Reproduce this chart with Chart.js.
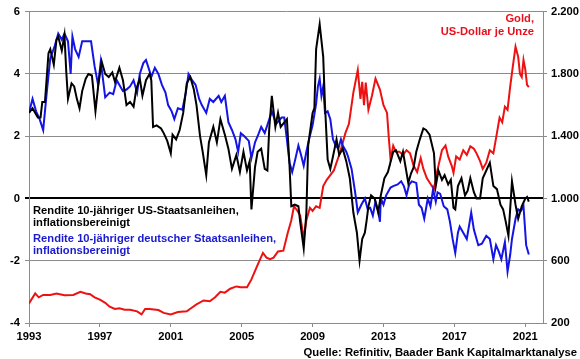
<!DOCTYPE html>
<html><head><meta charset="utf-8">
<script src="https://cdn.jsdelivr.net/npm/chart.js@4.4.0/dist/chart.umd.min.js"></script>
<style>
html,body{margin:0;padding:0;background:#fff;}
#wrap{position:relative;width:580px;height:359px;overflow:hidden;}
canvas{position:absolute;left:0;top:0;}
.t{position:absolute;font-family:"Liberation Sans",Arial,sans-serif;font-weight:bold;font-size:11.2px;white-space:nowrap;}
</style></head>
<body>
<div id="wrap">
<canvas id="c" width="580" height="359"></canvas>
<div class="t" style="left:33px;top:205px;line-height:11.5px;color:#000;">Rendite 10-jähriger US-Staatsanleihen,<br>inflationsbereinigt</div>
<div class="t" style="left:33px;top:233px;line-height:11.5px;color:#1a1ad0;">Rendite 10-jähriger deutscher Staatsanleihen,<br>inflationsbereinigt</div>
<div class="t" style="right:46px;top:12px;line-height:13px;color:#e8101c;text-align:right;">Gold,<br>US-Dollar je Unze</div>
<div class="t" style="right:3px;top:345px;line-height:14px;color:#000;font-size:11.3px;">Quelle: Refinitiv, Baader Bank Kapitalmarktanalyse</div>
</div>
<script>
// ---- Data ----
const xTickYears = [1993, 1997, 2001, 2005, 2009, 2013, 2017, 2021];
const leftTicks = [-4, -2, 0, 2, 4, 6];
const rightTicks = [200, 600, 1000, 1400, 1800, 2200];

const usDates = [1993.0,1993.2,1993.5,1993.65,1993.75,1993.9,1994.1,1994.2,1994.4,1994.55,1994.65,1994.85,1995.0,1995.1,1995.2,1995.4,1995.55,1995.7,1995.85,1996.0,1996.2,1996.35,1996.55,1996.75,1996.9,1997.1,1997.3,1997.5,1997.7,1997.85,1998.1,1998.3,1998.5,1998.7,1998.9,1999.05,1999.25,1999.4,1999.6,1999.8,1999.9,2000.0,2000.2,2000.45,2000.6,2000.8,2001.0,2001.1,2001.3,2001.5,2001.7,2001.9,2002.1,2002.3,2002.45,2002.65,2002.8,2003.0,2003.15,2003.4,2003.6,2003.8,2004.05,2004.25,2004.45,2004.7,2004.9,2005.1,2005.3,2005.45,2005.55,2005.75,2005.9,2006.1,2006.3,2006.45,2006.55,2006.7,2006.9,2007.05,2007.2,2007.55,2007.7,2007.8,2008.0,2008.2,2008.3,2008.5,2008.65,2008.75,2009.0,2009.1,2009.2,2009.4,2009.6,2009.7,2009.85,2010.0,2010.15,2010.35,2010.5,2010.7,2010.9,2011.1,2011.3,2011.5,2011.65,2011.8,2011.95,2012.05,2012.15,2012.3,2012.5,2012.7,2012.85,2013.05,2013.25,2013.55,2013.7,2013.95,2014.1,2014.4,2014.55,2014.7,2014.85,2015.05,2015.25,2015.4,2015.6,2015.85,2015.95,2016.1,2016.3,2016.45,2016.65,2016.8,2016.95,2017.05,2017.2,2017.4,2017.6,2017.75,2017.9,2018.1,2018.25,2018.45,2018.6,2018.8,2019.0,2019.2,2019.4,2019.6,2019.75,2019.9,2020.05,2020.25,2020.45,2020.6,2020.8,2021.0,2021.1,2021.2];
const usYield = [2.75,2.9,2.6,2.6,3.1,3.1,4.67,4.8,4.3,5.1,5.2,4.75,5.25,4.1,3.2,3.7,3.6,3.2,2.9,3.45,3.85,4.0,3.95,2.8,3.6,4.4,4.0,3.9,4.05,3.75,4.2,3.8,3.0,3.1,2.95,3.5,3.85,3.3,3.8,4.0,3.8,2.3,2.35,2.25,2.1,1.85,1.45,2.05,1.9,2.2,2.75,3.7,3.9,3.5,3.0,2.0,1.5,0.75,1.8,2.3,1.8,2.55,2.05,1.6,0.95,1.4,0.85,1.5,0.9,1.2,-0.35,1.0,1.5,1.6,0.95,0.9,2.2,3.3,2.3,2.75,2.3,2.55,1.05,-0.25,-0.2,-0.25,-0.75,-1.6,-0.45,1.7,2.75,2.9,4.8,5.6,4.55,3.0,1.25,0.95,1.35,1.9,1.4,1.6,1.2,0.65,-0.45,-1.1,-2.0,-1.3,-1.1,-0.7,-0.25,0.1,0.0,-0.45,0.1,0.65,0.85,1.5,1.55,1.2,1.5,0.5,0.8,1.0,1.5,1.9,2.25,2.2,2.05,1.45,0.4,0.9,0.6,0.75,0.45,0.6,-0.3,-0.35,0.4,0.65,0.1,0.25,0.65,0.2,0.0,0.0,0.65,0.9,1.15,0.4,0.3,-0.2,-0.35,-0.75,-1.2,0.55,-0.2,-0.65,-0.25,0.0,0.05,-0.1];

const deDates = [1993.0,1993.2,1993.4,1993.6,1993.8,1994.0,1994.2,1994.45,1994.65,1994.85,1995.0,1995.2,1995.35,1995.45,1995.6,1995.8,1996.0,1996.3,1996.5,1996.7,1996.9,1997.05,1997.3,1997.55,1997.75,1997.95,1998.15,1998.3,1998.5,1998.7,1998.9,1999.1,1999.25,1999.45,1999.6,1999.8,1999.9,2000.1,2000.3,2000.5,2000.7,2000.85,2001.05,2001.2,2001.4,2001.65,2001.85,2002.0,2002.2,2002.4,2002.6,2002.75,2003.0,2003.2,2003.4,2003.7,2003.85,2004.05,2004.25,2004.45,2004.65,2004.8,2004.95,2005.15,2005.4,2005.55,2005.75,2005.9,2006.1,2006.3,2006.5,2006.7,2006.95,2007.25,2007.4,2007.55,2007.7,2007.85,2008.0,2008.2,2008.35,2008.5,2008.65,2008.8,2009.0,2009.2,2009.3,2009.4,2009.5,2009.6,2009.7,2009.85,2010.0,2010.15,2010.3,2010.45,2010.6,2010.7,2010.9,2011.0,2011.2,2011.4,2011.55,2011.75,2011.95,2012.1,2012.25,2012.4,2012.55,2012.7,2012.8,2012.85,2013.0,2013.15,2013.4,2013.55,2013.8,2014.0,2014.15,2014.3,2014.45,2014.6,2014.85,2015.0,2015.15,2015.3,2015.5,2015.65,2015.8,2015.95,2016.05,2016.2,2016.4,2016.6,2016.75,2016.9,2017.05,2017.2,2017.3,2017.5,2017.7,2017.85,2017.95,2018.1,2018.35,2018.55,2018.8,2019.0,2019.2,2019.35,2019.5,2019.65,2019.85,2020.0,2020.15,2020.25,2020.45,2020.6,2020.75,2020.9,2021.05,2021.2];
const deYield = [2.75,3.2,2.8,2.55,2.2,3.4,4.5,4.9,5.3,5.1,5.3,5.05,4.0,5.2,4.8,4.55,5.05,5.05,5.05,4.25,3.65,4.4,3.25,3.4,3.35,3.8,3.6,3.45,3.5,3.6,3.8,3.4,4.0,4.35,4.45,4.1,3.9,4.2,4.0,3.65,3.4,3.0,2.8,2.55,2.9,2.85,3.4,4.0,3.8,3.65,3.2,3.0,2.75,3.2,3.1,3.3,3.1,3.3,2.45,2.2,1.9,1.5,2.1,2.0,1.85,1.3,1.8,2.0,2.3,2.1,2.45,2.8,2.4,2.6,2.6,1.9,1.15,0.85,1.2,1.7,1.4,1.05,1.5,1.9,2.35,3.05,3.6,3.85,3.3,3.6,2.75,2.8,2.55,1.9,1.7,1.6,1.9,1.7,1.5,1.35,0.95,0.2,-0.45,-0.2,0.0,-0.33,-0.3,-0.55,-0.1,-0.4,-0.75,0.0,-0.2,0.1,0.35,0.4,0.45,0.55,0.4,0.1,0.45,0.55,0.5,-0.2,-0.3,-0.65,0.0,-0.25,0.3,-0.1,0.2,0.15,-0.25,-0.35,-0.75,-1.3,-1.75,-1.1,-0.9,-1.1,-1.3,-0.8,-0.45,-1.0,-1.5,-1.45,-1.2,-1.3,-1.95,-1.5,-1.7,-1.95,-1.4,-2.35,-1.8,-1.3,-0.65,-0.35,-0.4,-0.25,-1.5,-1.8];

const goldDates = [1993.0,1993.35,1993.55,1993.8,1994.2,1994.55,1995.0,1995.5,1995.9,1996.2,1996.45,1996.7,1997.0,1997.3,1997.55,1997.85,1998.1,1998.4,1998.7,1999.1,1999.35,1999.55,1999.8,2000.3,2000.6,2001.0,2001.4,2001.9,2002.2,2002.45,2002.85,2003.2,2003.5,2003.8,2004.05,2004.35,2004.7,2004.95,2005.3,2005.55,2005.85,2006.2,2006.4,2006.6,2006.8,2007.05,2007.35,2007.6,2007.8,2007.95,2008.15,2008.3,2008.5,2008.65,2008.85,2009.0,2009.2,2009.4,2009.6,2009.8,2010.0,2010.2,2010.35,2010.55,2010.85,2011.05,2011.15,2011.3,2011.55,2011.7,2011.8,2011.9,2012.0,2012.15,2012.35,2012.55,2012.8,2013.0,2013.2,2013.3,2013.4,2013.55,2013.7,2013.9,2014.1,2014.3,2014.5,2014.7,2014.9,2015.1,2015.25,2015.45,2015.7,2015.85,2016.0,2016.3,2016.5,2016.65,2016.85,2016.95,2017.1,2017.3,2017.5,2017.7,2017.9,2018.1,2018.25,2018.45,2018.6,2018.8,2019.0,2019.2,2019.4,2019.55,2019.7,2019.85,2020.0,2020.15,2020.3,2020.45,2020.6,2020.7,2020.8,2020.9,2021.0,2021.1,2021.2];
const goldPrice = [326,390,365,380,380,390,378,380,400,390,385,365,350,330,305,290,295,285,285,275,255,290,290,283,265,255,270,275,300,320,345,340,365,400,395,420,435,430,430,480,560,650,620,610,620,660,665,780,860,950,920,890,745,860,940,920,950,940,1080,1120,1150,1180,1230,1295,1420,1480,1560,1680,1825,1640,1750,1600,1745,1570,1660,1770,1700,1600,1550,1390,1250,1340,1300,1300,1280,1310,1290,1210,1170,1260,1190,1130,1085,1060,1160,1310,1340,1270,1210,1165,1270,1250,1310,1280,1335,1320,1290,1240,1190,1230,1310,1290,1420,1520,1490,1590,1570,1720,1850,1975,1910,1800,1780,1890,1830,1730,1715];

// ---- Chart ----
const pts = (xs, ys) => xs.map((x, i) => ({x: x, y: ys[i]}));
const FONT = {family: '"Liberation Sans", Arial, sans-serif', size: 11.2, weight: 'bold'};
const GRID = '#8c8c8c';
const fmtDe = v => String(v).replace(/\B(?=(\d{3})+(?!\d))/g, '.');

new Chart(document.getElementById('c'), {
  type: 'line',
  data: {
    datasets: [
      {label: 'US', data: pts(usDates, usYield), borderColor: '#000000', borderWidth: 2, pointRadius: 0, yAxisID: 'y', tension: 0},
      {label: 'DE', data: pts(deDates, deYield), borderColor: '#1414e6', borderWidth: 2, pointRadius: 0, yAxisID: 'y', tension: 0},
      {label: 'Gold', data: pts(goldDates, goldPrice), borderColor: '#ee1111', borderWidth: 2, pointRadius: 0, yAxisID: 'y1', tension: 0}
    ]
  },
  options: {
    responsive: false,
    animation: false,
    layout: {padding: {top: 10, left: 0, right: 0, bottom: 0}},
    plugins: {legend: {display: false}, tooltip: {enabled: false}},
    scales: {
      x: {
        type: 'linear', min: 1993, max: 2022,
        afterBuildTicks: s => { s.ticks = xTickYears.map(v => ({value: v})); },
        afterFit: s => { s.height = 36; },
        ticks: {color: '#000', font: FONT, padding: 3, maxRotation: 0, autoSkip: false, callback: v => String(v)},
        grid: {drawOnChartArea: false, drawTicks: true, tickLength: 4, color: GRID},
        border: {display: true, color: GRID, width: 1}
      },
      y: {
        position: 'left', min: -4, max: 6,
        afterBuildTicks: s => { s.ticks = leftTicks.map(v => ({value: v})); },
        afterFit: s => { s.width = 29; },
        ticks: {color: '#000', font: FONT, padding: 5, callback: v => String(v)},
        grid: {
          color: c => (c.tick && c.tick.value === 0) ? '#000' : GRID,
          lineWidth: c => (c.tick && c.tick.value === 0) ? 2 : 1,
          drawTicks: true, tickLength: 4
        },
        border: {display: true, color: GRID, width: 1}
      },
      y1: {
        position: 'right', min: 200, max: 2200,
        afterBuildTicks: s => { s.ticks = rightTicks.map(v => ({value: v})); },
        afterFit: s => { s.width = 37; },
        ticks: {color: '#000', font: FONT, padding: 4, callback: v => fmtDe(v)},
        grid: {drawOnChartArea: false, drawTicks: true, tickLength: 4, color: GRID},
        border: {display: true, color: GRID, width: 1}
      }
    }
  }
});
</script>
</body></html>
